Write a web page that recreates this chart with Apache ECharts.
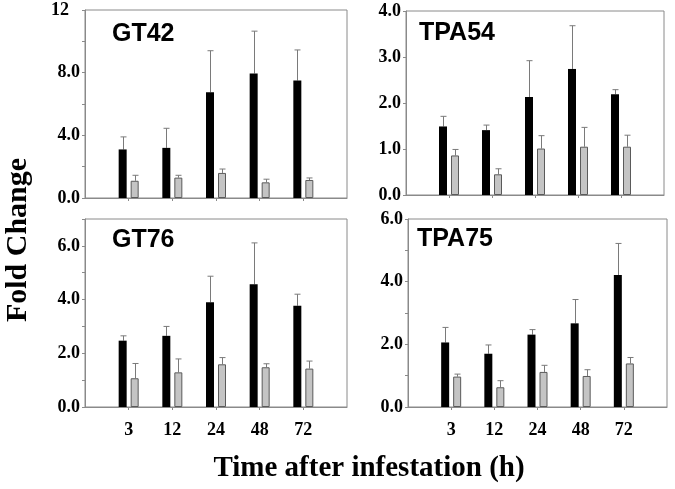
<!DOCTYPE html>
<html><head><meta charset="utf-8">
<script src="https://cdn.jsdelivr.net/npm/echarts@6/dist/echarts.min.js"></script>
<style>html,body{margin:0;padding:0;background:#fff}#c{width:675px;height:489px}</style>
</head><body><div id="c"></div>
<script>
// ---- data ----
const categories = ['3', '12', '24', '48', '72'];
const panelNames = ['GT42', 'TPA54', 'GT76', 'TPA75'];

const gt42Black = [3.1, 3.2, 6.75, 7.95, 7.5];
const gt42BlackErr = [0.8, 1.25, 2.65, 2.7, 1.95];
const gt42Gray = [1.1, 1.3, 1.6, 1.0, 1.15];
const gt42GrayErr = [0.35, 0.15, 0.25, 0.2, 0.13];

const tpa54Black = [1.49, 1.41, 2.13, 2.74, 2.19];
const tpa54BlackErr = [0.22, 0.11, 0.79, 0.94, 0.1];
const tpa54Gray = [0.86, 0.45, 1.01, 1.05, 1.05];
const tpa54GrayErr = [0.13, 0.12, 0.28, 0.42, 0.25];

const gt76Black = [2.47, 2.65, 3.9, 4.57, 3.77];
const gt76BlackErr = [0.18, 0.35, 0.97, 1.54, 0.43];
const gt76Gray = [1.07, 1.29, 1.59, 1.48, 1.43];
const gt76GrayErr = [0.55, 0.5, 0.25, 0.13, 0.28];

const tpa75Black = [2.06, 1.7, 2.31, 2.67, 4.21];
const tpa75BlackErr = [0.48, 0.28, 0.16, 0.76, 1.01];
const tpa75Gray = [0.97, 0.63, 1.12, 0.99, 1.39];
const tpa75GrayErr = [0.08, 0.21, 0.21, 0.2, 0.19];

// y-axis ranges: [max, tick interval, label every]
const yMax = [12, 4, 7, 6];
const yTickStep = [2, 1, 1, 1];
const yLabelStep = [4, 1, 2, 2];

const xTitle = 'Time after infestation (h)';
const yTitle = 'Fold Change';

// ---- layout / style ----
const grids = [
  {left: 85, top: 10, width: 262, height: 188},
  {left: 406, top: 11, width: 258, height: 184},
  {left: 85, top: 219, width: 262, height: 188},
  {left: 408, top: 219, width: 259, height: 188}
];
const titlePos = [[112, 22], [419, 21], [112, 228], [417, 227]];
const BAR_W = 8, BAR_OFF = 6, CAP = 3;
const SERIF = '"Liberation Serif", "Times New Roman", serif';
const SANS = '"Liberation Sans", Arial, sans-serif';

const blacks = [gt42Black, tpa54Black, gt76Black, tpa75Black];
const blackErrs = [gt42BlackErr, tpa54BlackErr, gt76BlackErr, tpa75BlackErr];
const grays = [gt42Gray, tpa54Gray, gt76Gray, tpa75Gray];
const grayErrs = [gt42GrayErr, tpa54GrayErr, gt76GrayErr, tpa75GrayErr];

const axisCats = [''].concat(categories, ['']);

function errSeries(gi, vals, errs, offset) {
  return {
    type: 'custom', xAxisIndex: gi, yAxisIndex: gi, z: 1,
    data: vals.map((v, i) => [i + 1, v, v + errs[i]]),
    renderItem: function (params, api) {
      const lo = api.coord([api.value(0), api.value(1)]);
      const hi = api.coord([api.value(0), api.value(2)]);
      const x = Math.round(lo[0] + offset) + 0.5;
      const st = {stroke: '#7a7a7a', lineWidth: 1};
      return {type: 'group', children: [
        {type: 'line', shape: {x1: x, y1: lo[1], x2: x, y2: hi[1]}, style: st},
        {type: 'line', shape: {x1: x - CAP, y1: hi[1], x2: x + CAP, y2: hi[1]}, style: st}
      ]};
    }
  };
}

const option = {
  animation: false,
  backgroundColor: '#fff',
  grid: grids.map(g => Object.assign({show: true, borderColor: '#8a8a8a', borderWidth: 1, backgroundColor: 'transparent'}, g)),
  xAxis: grids.map((g, gi) => ({
    type: 'category', gridIndex: gi, data: axisCats, boundaryGap: false,
    axisLine: {show: true, lineStyle: {color: '#8a8a8a'}},
    axisTick: {show: true, inside: false, length: 3, lineStyle: {color: '#8a8a8a'},
               interval: (i) => i > 0 && i < axisCats.length - 1},
    axisLabel: {show: gi >= 2, interval: 0, margin: 14, color: '#000',
                fontFamily: SERIF, fontWeight: 'bold', fontSize: 18},
    splitLine: {show: false}
  })),
  yAxis: grids.map((g, gi) => ({
    type: 'value', gridIndex: gi, min: 0, max: yMax[gi], interval: yTickStep[gi],
    axisLine: {show: true, lineStyle: {color: '#8a8a8a'}},
    axisTick: {show: true, inside: false, length: 3, lineStyle: {color: '#8a8a8a'}},
    splitLine: {show: false},
    axisLabel: {
      margin: 5, color: '#000', fontFamily: SERIF, fontWeight: 'bold', fontSize: 18,
      showMaxLabel: true,
      formatter: function (v) {
        if (Math.abs(v / yLabelStep[gi] - Math.round(v / yLabelStep[gi])) > 1e-6) return '';
        if (v >= 10) return '{p|' + v + '}';
        return v.toFixed(1);
      },
      rich: {p: {fontFamily: SERIF, fontWeight: 'bold', fontSize: 18, color: '#000', padding: [0, 11, 0, 0]}}
    }
  })),
  title: panelNames.map((n, i) => ({
    text: n, left: titlePos[i][0], top: titlePos[i][1], padding: 0,
    textStyle: {fontFamily: SANS, fontWeight: 'bold', fontSize: 25, color: '#000'}
  })),
  graphic: [
    {type: 'text', x: 18, y: 240, rotation: Math.PI / 2,
     style: {text: yTitle, font: 'bold 30px ' + SERIF, fill: '#000', align: 'center', verticalAlign: 'middle'}},
    {type: 'text', x: 369, y: 469,
     style: {text: xTitle, font: 'bold 29px ' + SERIF, fill: '#000', align: 'center', verticalAlign: 'middle'}}
  ],
  series: []
};

grids.forEach((g, gi) => {
  option.series.push({
    type: 'bar', xAxisIndex: gi, yAxisIndex: gi, barWidth: BAR_W, barGap: '50%', z: 2,
    data: blacks[gi].map((v, i) => [i + 1, v]),
    itemStyle: {color: '#000', borderColor: '#000', borderWidth: 0}
  });
  option.series.push({
    type: 'bar', xAxisIndex: gi, yAxisIndex: gi, barWidth: BAR_W, barGap: '50%', z: 2,
    data: grays[gi].map((v, i) => [i + 1, v]),
    itemStyle: {color: '#c4c4c4', borderColor: '#5a5a5a', borderWidth: 1}
  });
  option.series.push(errSeries(gi, blacks[gi], blackErrs[gi], -BAR_OFF));
  option.series.push(errSeries(gi, grays[gi], grayErrs[gi], BAR_OFF));
});

const chart = echarts.init(document.getElementById('c'), null, {renderer: 'canvas'});
chart.setOption(option);
</script></body></html>
